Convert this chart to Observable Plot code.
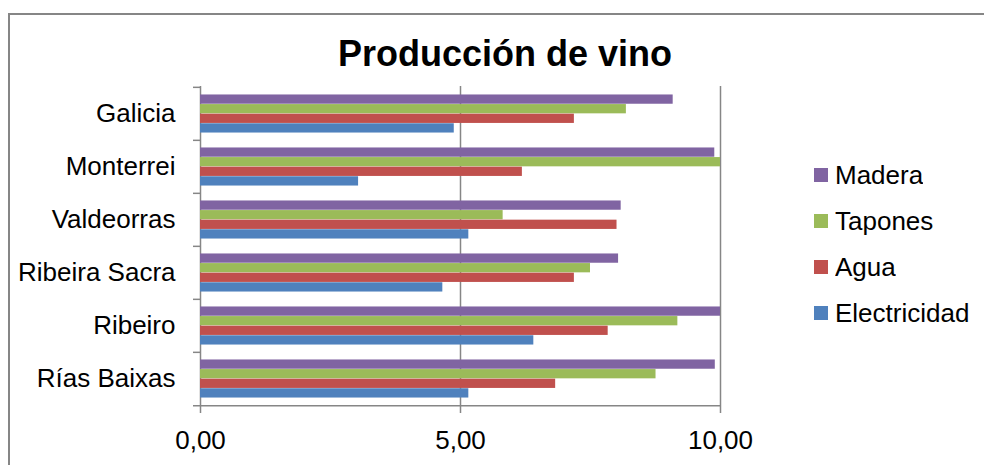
<!DOCTYPE html>
<html>
<head>
<meta charset="utf-8">
<script src="https://cdn.jsdelivr.net/npm/d3@7"></script>
<script src="https://cdn.jsdelivr.net/npm/@observablehq/plot@0.6"></script>
<style>
  body { margin: 0; background: #fff; }
  #wrap { position: relative; width: 984px; height: 465px; overflow: hidden;
          font-family: "Liberation Sans", Arial, sans-serif; background: #fff; }
  #border { position: absolute; left: 8px; top: 13px; width: 1000px; height: 500px;
            border-top: 2px solid #868686; border-left: 2px solid #868686; }
  #chart { position: absolute; left: 0; top: 0; }
  #title { position: absolute; left: 255px; width: 500px; top: 36px; text-align: center;
           font-weight: bold; font-size: 36px; line-height: 36px; color: #000; }
  #legend { position: absolute; left: 814px; top: 152px; }
  #legend .wlg-swatches { margin: 0; font-size: 26px; color: #000; }
  #legend .wlg-swatch { height: 46px; padding: 0; margin: 0; display: flex; align-items: center; }
  #legend .wlg-swatch svg { margin-right: 7px; }
</style>
</head>
<body>
<div id="wrap">
  <div id="border"></div>
  <div id="chart"></div>
  <div id="title">Producción de vino</div>
  <div id="legend"></div>
</div>
<script>
// Wine-production cost indicators by Galician denomination of origin
const categories = ["Galicia", "Monterrei", "Valdeorras", "Ribeira Sacra", "Ribeiro", "Rías Baixas"];
const series = ["Madera", "Tapones", "Agua", "Electricidad"];
const madera       = [9.09, 9.89, 8.09, 8.04, 10.0, 9.90];
const tapones      = [8.19, 10.0, 5.82, 7.50, 9.18, 8.76];
const agua         = [7.19, 6.19, 8.01, 7.19, 7.84, 6.83];
const electricidad = [4.88, 3.04, 5.16, 4.66, 6.41, 5.16];
const xTicks = [0, 5, 10];
const colors = ["#8064A2", "#9BBB59", "#C0504D", "#4F81BD"];

const valuesBySeries = [madera, tapones, agua, electricidad];
const rows = series.flatMap((s, k) =>
  categories.map((c, i) => ({category: c, series: s, value: valuesBySeries[k][i]}))
);

const W = 984, H = 465;
const marginTop = 86, marginBottom = 59, marginLeft = 200, marginRight = 264;
const gray = "#868686";
const font = "'Liberation Sans', Arial, sans-serif";

// Each category band holds four stacked sub-bars with a half gap above and below
const band = (H - marginTop - marginBottom) / categories.length;
const gap = band * 0.28;
const barH = (band - gap) / series.length;
const fmt = d => d.toFixed(2).replace(".", ",");

const seriesBars = series.map((s, k) =>
  Plot.barX(rows.filter(d => d.series === s), {
    x: "value",
    y: "category",
    fill: "series",
    insetTop: gap / 2 + k * barH,
    insetBottom: gap / 2 + (series.length - 1 - k) * barH
  })
);

const chart = Plot.plot({
  width: W,
  height: H,
  marginTop, marginBottom, marginLeft, marginRight,
  style: {fontFamily: font, fontSize: "26px", color: "#000", background: "transparent", overflow: "visible"},
  x: {domain: [0, xTicks[xTicks.length - 1]]},
  y: {domain: categories, padding: 0},
  color: {domain: series, range: colors},
  marks: [
    // value gridlines (the one at zero doubles as the category axis line)
    Plot.ruleX(xTicks, {stroke: gray, strokeWidth: 1.5}),
    ...seriesBars,
    // category separator ticks on the left axis
    Plot.ruleY(categories, {y: d => d, x1: 0, x2: 0, insetLeft: -7, dy: -band / 2, stroke: gray, strokeWidth: 1.5}),
    // value axis baseline
    Plot.ruleY([categories[categories.length - 1]], {y: d => d, x1: 0, x2: xTicks[xTicks.length - 1], insetLeft: -7, dy: band / 2, stroke: gray, strokeWidth: 1.5}),
    Plot.axisX({ticks: xTicks, tickFormat: fmt, tickSize: 7, tickPadding: 17, stroke: gray, strokeWidth: 1.5, fill: "#000", fontSize: 26, label: null}),
    Plot.axisY({tickSize: 0, tickPadding: 25, fill: "#000", fontSize: 26, label: null})
  ]
});
document.getElementById("chart").appendChild(chart);

const legend = Plot.legend({
  color: {domain: series, range: colors},
  legend: "swatches",
  columns: 1,
  swatchSize: 14,
  className: "wlg",
  style: {fontFamily: font, fontSize: "26px", color: "#000"}
});
document.getElementById("legend").appendChild(legend);
</script>
</body>
</html>
